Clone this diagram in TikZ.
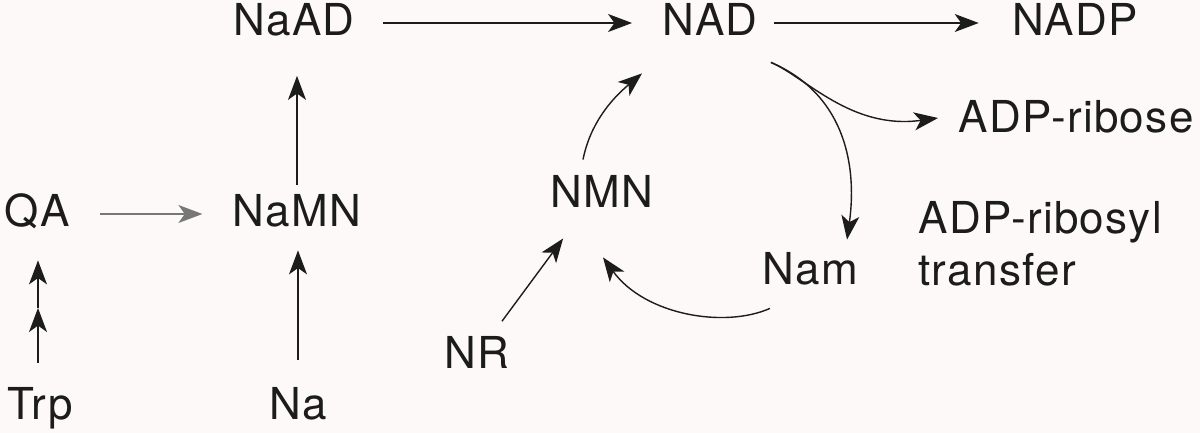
\documentclass[tikz,border=0pt]{standalone}
\usepackage{fontspec}
\setmainfont{TeX Gyre Heros}[LetterSpace=3]
\usetikzlibrary{arrows.meta}
\definecolor{bg}{RGB}{253,249,249}
\definecolor{ink}{RGB}{28,28,28}
\begin{document}
\begin{tikzpicture}[x=0.5pt,y=-0.5pt,
  lbl/.style={inner sep=0pt, anchor=base, text=ink, font=\fontsize{22}{26}\selectfont, text height=15.75pt, text depth=2.75pt},
  arr/.style={-{Stealth[length=12pt,width=9pt,inset=3.2pt]}, line width=0.7pt, draw=ink}]
\fill[bg] (0,0) rectangle (1200,433);
\useasboundingbox (0,0) rectangle (1200,433);
% nodes
\node[lbl] (NaAD) at (294,36) {NaAD};
\node[lbl] (NAD) at (710,36) {NAD};
\node[lbl] (NADP) at (1075,36) {NADP};
\node[lbl] (ADPr) at (1076,133) {ADP-ribose};
\node[lbl] (QA) at (37,227) {QA};
\node[lbl] (NaMN) at (297,227) {NaMN};
\node[lbl] (NMN) at (602,207) {NMN};
\node[lbl] (Nam) at (810,285) {Nam};
\node[inner sep=0pt, anchor=north west, align=left, text=ink, font=\fontsize{22}{26}\selectfont] (ADPt) at (918,201) {ADP-ribosyl\\transfer};
\node[lbl] (NR) at (477,368) {NR};
\node[lbl] (Trp) at (40,419) {Trp};
\node[lbl] (Na) at (298,419) {Na};
\coordinate (TrpMid) at (38,308);
% straight connectors
\draw[arr, shorten <=14pt, shorten >=15pt] (NaAD.east) -- (NAD.west);
\draw[arr, shorten <=8pt, shorten >=16.5pt] (NAD.east) -- (NADP.west);
\draw[arr, draw=ink!60, shorten <=15pt, shorten >=15pt] (QA.east) -- (QA.east -| NaMN.west);
\draw[arr, shorten <=5pt, shorten >=17pt] (NaMN.north) -- (NaMN.north |- NaAD.south);
\draw[arr, shorten <=13.75pt, shorten >=8.75pt] (Na.north) -- (Na.north |- NaMN.south);
\draw[arr, shorten <=12.25pt] (Trp.north -| TrpMid) -- (TrpMid);
\draw[arr, shorten >=13.75pt] (TrpMid) -- (TrpMid |- QA.south);
\draw[arr, shorten <=9.25pt, shorten >=15.9pt] ([xshift=7pt]NR.north) -- ([xshift=-10pt]NMN.south);
% curved connectors
\draw[arr] ([shift={(-9.5pt,7.75pt)}]NMN.north) .. controls +(7,-35) and +(-32,27) .. ([shift={(-34pt,-15.75pt)}]NAD.south);
\draw[arr] ([shift={(4pt,-8.75pt)}]Nam.south west) .. controls +(-45,20) and +(42,58) .. ([shift={(0.5pt,-22.25pt)}]NMN.south);
\draw[arr] ([shift={(6.5pt,-10.25pt)}]NAD.south east) .. controls +(70,30) and +(11,-80) .. ([shift={(-5.5pt,6.75pt)}]Nam.north east);
\draw[arr] ([shift={(6.5pt,-10.25pt)}]NAD.south east) .. controls +(35,15) and +(-87,12) .. ([shift={(-10pt,1pt)}]ADPr.west);
\end{tikzpicture}
\end{document}
